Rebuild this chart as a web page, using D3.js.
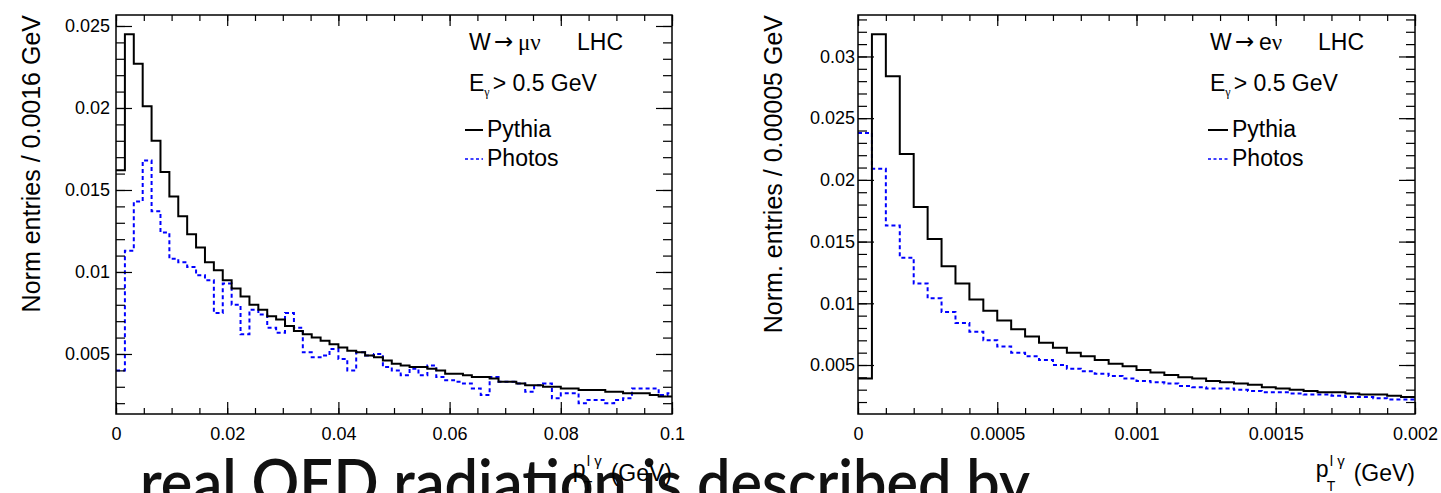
<!DOCTYPE html>
<html>
<head>
<meta charset="utf-8">
<script src="https://cdn.jsdelivr.net/npm/d3@7"></script>
<style>
  html, body { margin: 0; padding: 0; background: #fff; overflow: hidden; }
  svg { display: block; font-family: "Liberation Sans", Arial, Helvetica, sans-serif; }
</style>
</head>
<body>
<div id="chart"></div>
<script>
// W -> mu nu, bins of 0.0016 GeV
const muBinWidth = 0.0016;
const muPythia = [
  0.0162, 0.0245, 0.0227, 0.0201, 0.0180, 0.0161, 0.0146, 0.0134, 0.0123, 0.0115,
  0.0106, 0.0101, 0.0095, 0.0090, 0.0085, 0.0080, 0.0077, 0.0073, 0.0071, 0.0067,
  0.0064, 0.0062, 0.0060, 0.0058, 0.0056, 0.0054, 0.0052, 0.0051, 0.0049, 0.0048,
  0.0046, 0.0044, 0.0043, 0.0042, 0.0042, 0.0041, 0.0040, 0.0038, 0.0038, 0.0037,
  0.0036, 0.0036, 0.0035, 0.0033, 0.0033, 0.0032, 0.0031, 0.0031, 0.0030, 0.0030,
  0.0029, 0.0029, 0.0028, 0.0028, 0.0028, 0.0027, 0.0027, 0.0026, 0.0026, 0.0026,
  0.0025, 0.0024, 0.0024
];
const muPhotos = [
  0.0040, 0.0113, 0.0143, 0.0168, 0.0137, 0.0124, 0.0108, 0.0106, 0.0103, 0.0098,
  0.0095, 0.0075, 0.0093, 0.0080, 0.0062, 0.0077, 0.0074, 0.0066, 0.0063, 0.0075,
  0.0066, 0.0051, 0.0048, 0.0049, 0.0053, 0.0047, 0.0040, 0.0051, 0.0049, 0.0050,
  0.0042, 0.0040, 0.0037, 0.0041, 0.0037, 0.0043, 0.0036, 0.0034, 0.0033, 0.0032,
  0.0029, 0.0025, 0.0036, 0.0033, 0.0033, 0.0032, 0.0027, 0.0031, 0.0032, 0.0023,
  0.0026, 0.0026, 0.0020, 0.0022, 0.0022, 0.0020, 0.0022, 0.0023, 0.0029, 0.0029,
  0.0029, 0.0025, 0.0026
];
const muXTicks = [0, 0.02, 0.04, 0.06, 0.08, 0.1];
const muYTicks = [0.005, 0.01, 0.015, 0.02, 0.025];

// W -> e nu, bins of 0.00005 GeV
const eBinWidth = 0.00005;
const ePythia = [
  0.0039, 0.0318, 0.0284, 0.0221, 0.0178, 0.0152, 0.0130, 0.0116, 0.0103, 0.0094,
  0.0086, 0.0079, 0.0073, 0.0068, 0.0064, 0.0060, 0.0057, 0.0054, 0.0051, 0.0049,
  0.0046, 0.0044, 0.0042, 0.0040, 0.0039, 0.0037, 0.0036, 0.0035, 0.0034, 0.0032,
  0.0031, 0.0030, 0.0029, 0.0028, 0.0028, 0.0027, 0.0026, 0.0026, 0.0025, 0.0024
];
const ePhotos = [
  0.0238, 0.0209, 0.0163, 0.0137, 0.0116, 0.0104, 0.0093, 0.0084, 0.0077, 0.0070,
  0.0065, 0.0060, 0.0057, 0.0054, 0.0050, 0.0047, 0.0045, 0.0043, 0.0041, 0.0039,
  0.0037, 0.0036, 0.0035, 0.0033, 0.0032, 0.0031, 0.0031, 0.0030, 0.0029, 0.0028,
  0.0028, 0.0027, 0.0026, 0.0026, 0.0025, 0.0024, 0.0024, 0.0023, 0.0022, 0.0022
];
const eXTicks = [0, 0.0005, 0.001, 0.0015, 0.002];
const eYTicks = [0.005, 0.01, 0.015, 0.02, 0.025, 0.03];

const seriesNames = ["Pythia", "Photos"];

const width = 1441, height = 493;
const svg = d3.select("#chart").append("svg")
    .attr("width", width)
    .attr("height", height);

const fmt = d3.format("~g");

// big slide text behind the plots, cut at the bottom of the picture
svg.append("text")
    .attr("x", 140).attr("y", 505)
    .attr("textLength", 890).attr("lengthAdjust", "spacingAndGlyphs")
    .style("font-family", "Lato, 'Open Sans', sans-serif")
    .style("font-size", "63px")
    .style("font-weight", 600)
    .attr("fill", "#111")
    .text("real QED radiation is described by");

function panel(o) {
  const x = d3.scaleLinear().domain(o.xDomain).range([o.left, o.right]);
  const y = d3.scaleLinear().domain(o.yDomain).range([o.bottom, o.top]);
  const g = svg.append("g");

  g.append("clipPath").attr("id", "clip-" + o.id)
    .append("rect")
    .attr("x", o.left).attr("y", o.top)
    .attr("width", o.right - o.left).attr("height", o.bottom - o.top);

  // histogram outlines
  const step = d3.line().x(d => x(d[0])).y(d => y(d[1])).curve(d3.curveStepAfter);
  const pts = vals => vals.map((v, i) => [i * o.binWidth, v])
      .concat([[vals.length * o.binWidth, vals[vals.length - 1]]]);

  g.append("path")
      .attr("d", step(pts(o.photos)))
      .attr("fill", "none").attr("stroke", "#0000ff")
      .attr("stroke-width", 2).attr("stroke-dasharray", "4,3")
      .attr("clip-path", `url(#clip-${o.id})`);
  g.append("path")
      .attr("d", step(pts(o.pythia)))
      .attr("fill", "none").attr("stroke", "#000")
      .attr("stroke-width", 2)
      .attr("clip-path", `url(#clip-${o.id})`);

  // minor tick values
  const nx = Math.round(o.xDomain[1] / o.xMinor);
  const xMinors = d3.range(0, nx + 1).map(i => i * o.xMinor);
  const yMinors = d3.range(Math.ceil(o.yDomain[0] / 0.001), Math.floor(o.yDomain[1] / 0.001) + 1)
      .map(i => i * 0.001);

  const tidy = sel => {
    sel.select(".domain").remove();
    sel.selectAll("line").attr("stroke", "#000").attr("stroke-width", 1.2);
    sel.selectAll("text").attr("fill", "#000")
      .style("font-family", "'Liberation Sans', Arial, sans-serif")
      .style("font-size", "18px");
  };

  // bottom
  g.append("g").attr("transform", `translate(0,${o.bottom})`)
    .call(d3.axisBottom(x).tickValues(xMinors).tickSize(-6).tickFormat("")).call(tidy);
  g.append("g").attr("transform", `translate(0,${o.bottom})`)
    .call(d3.axisBottom(x).tickValues(o.xTicks).tickSize(-12).tickPadding(13).tickFormat(fmt)).call(tidy);
  // top
  g.append("g").attr("transform", `translate(0,${o.top})`)
    .call(d3.axisTop(x).tickValues(xMinors).tickSize(-6).tickFormat("")).call(tidy);
  g.append("g").attr("transform", `translate(0,${o.top})`)
    .call(d3.axisTop(x).tickValues(o.xTicks).tickSize(-11).tickFormat("")).call(tidy);
  // left
  g.append("g").attr("transform", `translate(${o.left},0)`)
    .call(d3.axisLeft(y).tickValues(yMinors).tickSize(-9).tickFormat("")).call(tidy);
  g.append("g").attr("transform", `translate(${o.left},0)`)
    .call(d3.axisLeft(y).tickValues(o.yTicks).tickSize(-16).tickPadding(o.yPad).tickFormat(fmt)).call(tidy);
  // right
  g.append("g").attr("transform", `translate(${o.right},0)`)
    .call(d3.axisRight(y).tickValues(yMinors).tickSize(-9).tickFormat("")).call(tidy);
  g.append("g").attr("transform", `translate(${o.right},0)`)
    .call(d3.axisRight(y).tickValues(o.yTicks).tickSize(-16).tickFormat("")).call(tidy);

  // frame
  g.append("rect")
      .attr("x", o.left).attr("y", o.top)
      .attr("width", o.right - o.left).attr("height", o.bottom - o.top)
      .attr("fill", "none").attr("stroke", "#000").attr("stroke-width", 1.5);

  // y title
  g.append("text")
      .attr("transform", `translate(${o.yTitleX},${o.top}) rotate(-90)`)
      .attr("text-anchor", "end")
      .style("font-size", "25px")
      .text(o.yTitle);

  // x title p_T^{l gamma} (GeV)
  const t = g.append("text").attr("x", o.right).attr("y", 481)
      .attr("text-anchor", "end").style("font-size", "23px").text("(GeV)");
  const wGeV = t.node().getComputedTextLength();
  const supEnd = o.right - wGeV - 9;
  const sup = g.append("text").attr("x", supEnd).attr("y", 466)
      .attr("text-anchor", "end").style("font-size", "15px").text("l γ");
  const wSup = sup.node().getComputedTextLength();
  const pEnd = supEnd - wSup - 1;
  g.append("text").attr("x", pEnd).attr("y", 477)
      .attr("text-anchor", "end").style("font-size", "23px").text("p");
  g.append("text").attr("x", pEnd - 2).attr("y", 491)
      .style("font-size", "14px").text("T");

  // process label: W -> l nu   LHC
  g.append("text").attr("x", o.labelX).attr("y", 50).style("font-size", "23px").text("W");
  g.append("text").attr("x", o.labelX + 25).attr("y", 49)
      .style("font-family", "'DejaVu Sans', sans-serif").style("font-size", "23px").text("→");
  const lep = g.append("text").attr("x", o.labelX + 49).attr("y", 50).style("font-size", "23px");
  lep.append("tspan").text(o.lepton[0]);
  lep.append("tspan").style("font-family", "'Liberation Serif', serif").text(o.lepton[1]);
  g.append("text").attr("x", o.labelX + 154).attr("y", 50)
      .attr("text-anchor", "end").style("font-size", "23px").text("LHC");

  const cut = g.append("text").attr("x", o.labelX).attr("y", 91).style("font-size", "23px");
  cut.append("tspan").text("E");
  cut.append("tspan").style("font-family", "'Liberation Serif', serif").style("font-size", "12px")
      .attr("dy", 5).text("γ");
  cut.append("tspan").attr("dx", 3).attr("dy", -5).text("> 0.5 GeV");

  // legend
  const legY = [130, 159];
  seriesNames.forEach((name, i) => {
    g.append("line")
        .attr("x1", o.legX).attr("x2", o.legX + o.legLen)
        .attr("y1", legY[i]).attr("y2", legY[i])
        .attr("stroke", i === 0 ? "#000" : "#0000ff")
        .attr("stroke-width", i === 0 ? 2 : 1.6)
        .attr("stroke-dasharray", i === 0 ? null : "3,2.5");
    g.append("text")
        .attr("x", o.legX + o.legLen + 4).attr("y", legY[i] + 7)
        .style("font-size", "23px")
        .text(name);
  });
}

panel({
  id: "mu", left: 116, right: 672, top: 15, bottom: 414,
  xDomain: [0, 0.1], yDomain: [0.00134, 0.02567],
  binWidth: muBinWidth, pythia: muPythia, photos: muPhotos,
  xTicks: muXTicks, yTicks: muYTicks, xMinor: 0.005, yPad: 6,
  yTitle: "Norm entries / 0.0016 GeV", yTitleX: 40,
  lepton: ["", "μν"], labelX: 469, legX: 465, legLen: 18
});

panel({
  id: "e", left: 858, right: 1415, top: 15, bottom: 414,
  xDomain: [0, 0.002], yDomain: [0.00103, 0.03336],
  binWidth: eBinWidth, pythia: ePythia, photos: ePhotos,
  xTicks: eXTicks, yTicks: eYTicks, xMinor: 0.0001, yPad: 3,
  yTitle: "Norm. entries / 0.00005 GeV", yTitleX: 782,
  lepton: ["e", "ν"], labelX: 1210, legX: 1208, legLen: 20
});
</script>
</body>
</html>
